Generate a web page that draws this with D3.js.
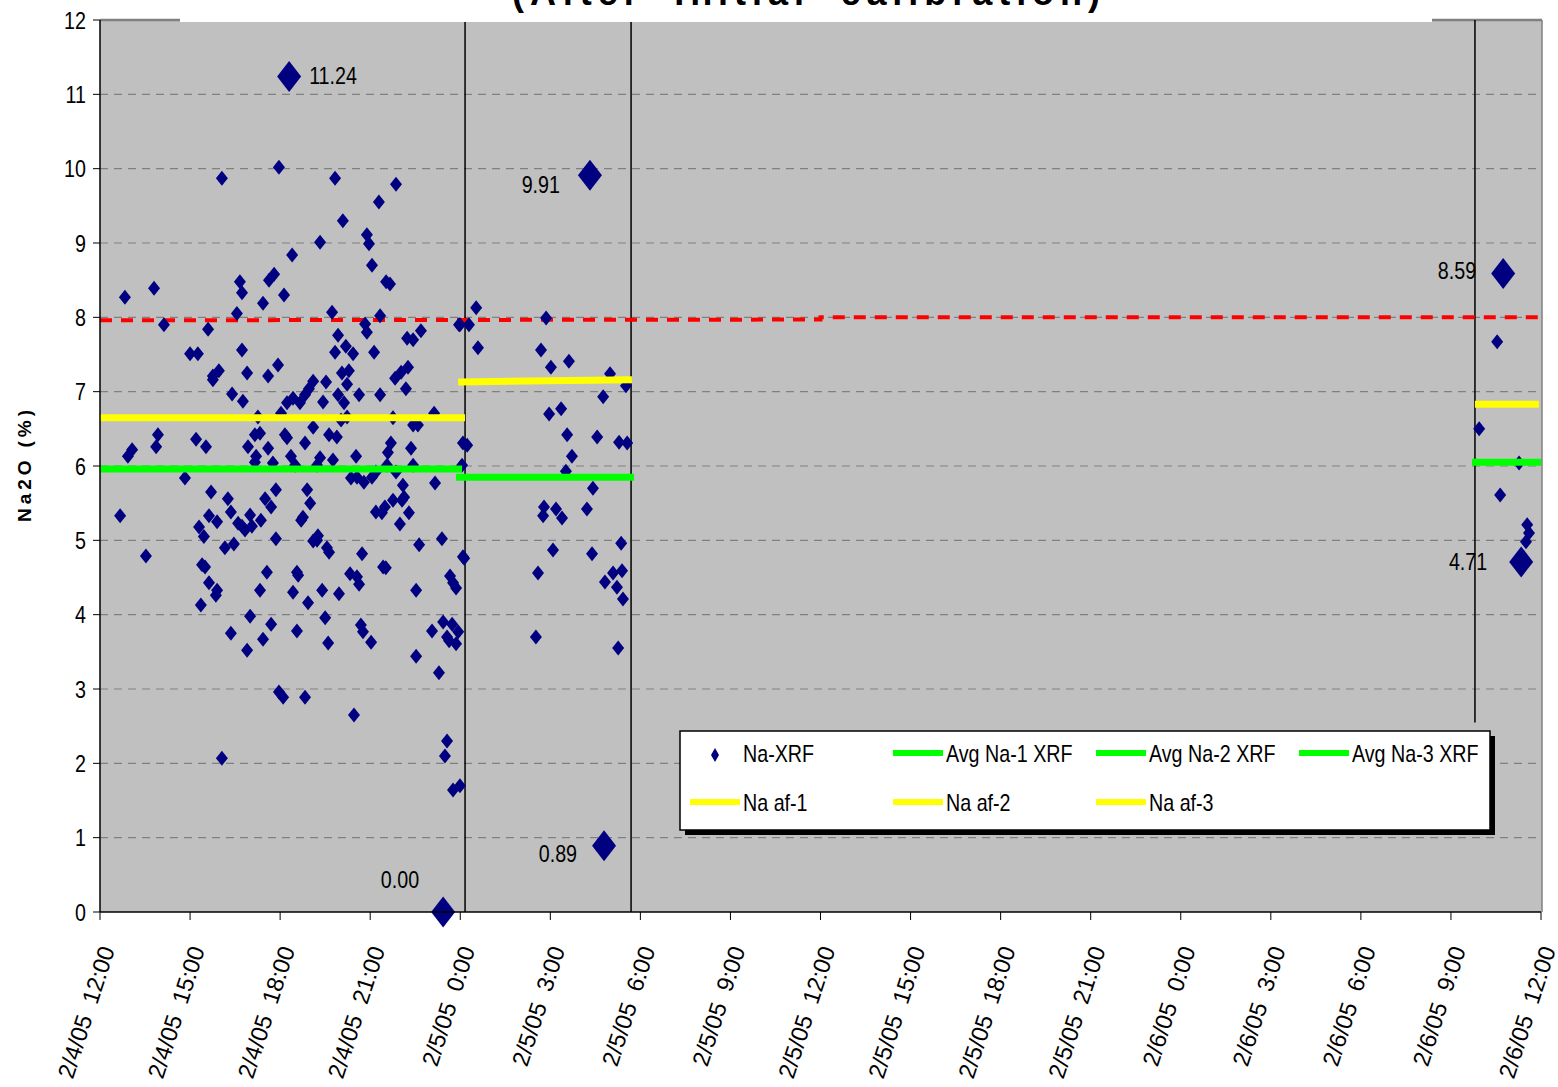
<!DOCTYPE html>
<html><head><meta charset="utf-8">
<script src="https://cdn.jsdelivr.net/npm/d3@7"></script>
<style>
body{margin:0;background:#fff}
svg{display:block}
text{font-family:"Liberation Sans",Arial,sans-serif;fill:#000}
</style>
</head><body>
<svg id="chart" width="1558" height="1087"></svg>
<script>
// ---------------- DATA ----------------
const titleText = "(After 'Initial' calibration)";
const yAxisTitle = "Na2O (%)";
const startTime = new Date(2005, 1, 4, 12, 0);
const endTime = new Date(2005, 1, 6, 12, 0);
const yTickValues = [0,1,2,3,4,5,6,7,8,9,10,11,12];

// Na-XRF readings: [hours after 2/4/05 12:00, Na2O %]
const naXrf = [
 [4.06,9.87],[5.96,10.02],[7.83,9.87],[9.86,9.79],[9.29,9.55],[8.09,9.30],[7.33,9.01],[8.89,9.11],[8.96,8.99],[9.06,8.70],
 [6.40,8.84],[5.80,8.58],[5.63,8.50],[4.66,8.48],[4.73,8.33],[9.53,8.48],[9.66,8.45],[6.13,8.30],[5.43,8.19],[0.83,8.27],
 [1.80,8.39],[4.56,8.05],[7.73,8.07],[9.33,8.02],[2.13,7.90],[3.60,7.84],[8.83,7.91],[8.89,7.80],[11.96,7.90],[7.93,7.76],
 [10.23,7.72],[10.43,7.70],[10.69,7.82],[4.73,7.56],[3.00,7.51],[3.26,7.51],[7.83,7.53],[8.19,7.61],[8.43,7.51],[9.13,7.53],
 [5.93,7.36],[3.76,7.21],[3.96,7.28],[3.76,7.16],[4.90,7.25],[5.60,7.21],[8.06,7.25],[8.29,7.28],[8.23,7.10],[9.83,7.18],
 [10.03,7.26],[10.26,7.33],[10.19,7.04],[4.40,6.97],[4.76,6.87],[6.23,6.85],[6.43,6.91],[6.66,6.85],[6.83,6.96],[6.96,7.04],
 [7.10,7.14],[7.53,7.13],[7.43,6.86],[7.93,6.96],[8.13,6.85],[8.63,6.96],[9.33,6.96],[11.13,6.71],[5.26,6.66],[6.03,6.71],
 [9.76,6.65],[8.03,6.62],[8.23,6.66],[10.43,6.55],[10.59,6.55],[1.93,6.42],[3.20,6.36],[3.53,6.26],[5.16,6.42],[5.33,6.44],
 [6.16,6.42],[6.23,6.38],[7.10,6.52],[7.63,6.42],[7.89,6.39],[9.69,6.31],[12.09,6.31],[6.83,6.31],[1.87,6.26],[1.07,6.22],
 [4.93,6.26],[5.60,6.24],[10.36,6.24],[0.93,6.13],[5.20,6.13],[5.16,6.05],[5.76,6.04],[6.36,6.13],[6.50,6.01],[7.33,6.11],
 [7.23,6.01],[7.76,6.08],[8.53,6.13],[8.36,5.84],[8.56,5.85],[8.79,5.78],[9.06,5.85],[9.19,5.92],[9.56,6.01],[9.59,6.18],
 [9.86,5.92],[10.43,6.01],[12.06,6.01],[11.16,5.77],[10.09,5.74],[9.76,5.54],[10.06,5.54],[10.13,5.58],[9.19,5.38],[9.39,5.37],
 [9.49,5.45],[10.29,5.37],[9.99,5.22],[10.63,4.94],[11.39,5.02],[12.09,4.78],[11.66,4.52],[11.76,4.43],[11.86,4.36],[10.53,4.33],
 [9.43,4.64],[9.52,4.63],[8.73,4.82],[8.33,4.55],[8.56,4.51],[8.63,4.41],[7.96,4.28],[7.40,4.33],[6.93,4.16],[6.43,4.30],
 [6.56,4.57],[6.60,4.53],[5.56,4.57],[5.33,4.33],[5.86,5.02],[7.10,4.99],[7.23,5.00],[7.26,5.06],[7.56,4.90],[7.63,4.84],
 [6.70,5.27],[6.76,5.31],[6.90,5.68],[7.00,5.50],[5.86,5.68],[5.50,5.56],[5.70,5.45],[5.36,5.27],[5.00,5.34],[5.06,5.19],
 [4.83,5.14],[4.60,5.23],[4.73,5.19],[4.26,5.56],[4.36,5.38],[3.70,5.65],[2.83,5.84],[3.63,5.33],[3.90,5.25],[3.30,5.18],
 [3.46,5.05],[4.16,4.90],[4.46,4.95],[0.67,5.33],[1.53,4.79],[3.40,4.67],[3.50,4.64],[3.63,4.43],[3.90,4.33],[3.86,4.26],
 [3.36,4.13],[4.36,3.75],[5.00,3.98],[5.70,3.87],[5.43,3.67],[4.90,3.52],[6.56,3.78],[7.50,3.96],[7.60,3.62],[8.69,3.86],
 [8.76,3.77],[9.03,3.63],[11.06,3.78],[11.43,3.90],[11.73,3.87],[11.93,3.77],[11.56,3.70],[11.63,3.65],[11.86,3.61],[10.53,3.44],
 [11.29,3.22],[5.96,2.96],[6.10,2.89],[6.83,2.89],[8.46,2.65],[4.06,2.07],[11.56,2.30],[11.49,2.10],[11.76,1.64],[11.99,1.70],
 [12.53,8.13],[11.99,7.90],[12.29,7.90],[14.86,7.99],[12.59,7.59],[14.69,7.56],[15.02,7.33],[15.62,7.41],[16.99,7.24],[17.52,7.08],
 [16.76,6.93],[14.96,6.70],[15.36,6.77],[15.56,6.42],[16.56,6.39],[17.29,6.32],[17.56,6.31],[12.23,6.28],[15.72,6.13],[15.52,5.93],
 [16.42,5.70],[14.79,5.45],[14.76,5.33],[15.19,5.42],[15.39,5.30],[16.22,5.42],[12.13,4.76],[17.36,4.96],[15.09,4.87],[16.39,4.82],
 [14.59,4.56],[16.82,4.44],[17.09,4.56],[17.39,4.59],[17.22,4.37],[17.42,4.21],[14.52,3.70],[17.26,3.55],
 [46.54,7.67],[45.94,6.50],[47.27,6.04],[46.64,5.61],[47.54,5.21],[47.60,5.10],[47.50,4.98]
];

// Highlighted (labelled) readings
const highlightHours  = [6.30, 11.43, 16.32, 16.79, 46.74, 47.34];
const highlightValues = [11.24, 0.00, 9.91, 0.89, 8.59, 4.71];

// Average and "af" levels per segment: [hours, value]
const avgNa1 = [[0, 5.96], [12.06, 5.96]];
const avgNa2 = [[11.86, 5.85], [17.79, 5.85]];
const avgNa3 = [[45.70, 6.05], [48.0, 6.05]];
const naAf1 = [[0, 6.65], [12.16, 6.65]];
const naAf2 = [[11.93, 7.13], [17.72, 7.16]];
const naAf3 = [[45.80, 6.83], [47.93, 6.83]];

// Upper limit (red dashed)
const limitLine = [[0, 7.96], [24, 7.97], [24, 8.00], [48, 8.00]];

// Segment separators: [hours, fromValue, toValue]
const segmentMarkers = [[12.16, 0, 12], [17.69, 0, 12], [45.80, 2.55, 12]];

const legendRow1 = ["Na-XRF", "Avg Na-1 XRF", "Avg Na-2 XRF", "Avg Na-3 XRF"];
const legendRow2 = ["Na af-1", "Na af-2", "Na af-3"];

// ---------------- DRAWING ----------------
const svg = d3.select("#chart");
const M = {left: 100, right: 1541, top: 20, bottom: 912};
const toDate = h => new Date(startTime.getTime() + h * 3600000);

const x = d3.scaleTime().domain([startTime, endTime]).range([M.left, M.right]);
const y = d3.scaleLinear().domain([0, 12]).range([M.bottom, M.top]);

function narrow(sel, f) {
  sel.each(function () {
    const l = this.getComputedTextLength();
    this.setAttribute("textLength", l * f);
    this.setAttribute("lengthAdjust", "spacingAndGlyphs");
  });
}

// plot background
svg.append("rect").attr("x", M.left).attr("y", M.top)
  .attr("width", M.right + 1 - M.left).attr("height", M.bottom - M.top)
  .attr("fill", "#c0c0c0");

// gridlines (dashed)
svg.append("g").selectAll("line").data(yTickValues.filter(v => v > 0 && v < 12)).join("line")
  .attr("x1", M.left).attr("x2", M.right + 1)
  .attr("y1", d => y(d)).attr("y2", d => y(d))
  .attr("stroke", "#808080").attr("stroke-width", 1.2).attr("stroke-dasharray", "8,6");

// top / right border
svg.append("line").attr("x1", M.left).attr("x2", M.right + 1).attr("y1", y(12)).attr("y2", y(12))
  .attr("stroke", "#808080").attr("stroke-width", 2.5);
svg.append("line").attr("x1", M.right + 1).attr("x2", M.right + 1).attr("y1", M.top).attr("y2", M.bottom)
  .attr("stroke", "#808080").attr("stroke-width", 1.5);

// segment markers
svg.append("g").selectAll("line").data(segmentMarkers).join("line")
  .attr("x1", d => x(toDate(d[0]))).attr("x2", d => x(toDate(d[0])))
  .attr("y1", d => y(d[1])).attr("y2", d => y(d[2]))
  .attr("stroke", "#000").attr("stroke-width", 1.5);

const line = d3.line().x(d => x(toDate(d[0]))).y(d => y(d[1]));

// red limit line
svg.append("path").datum(limitLine).attr("d", line)
  .attr("fill", "none").attr("stroke", "#ff0000").attr("stroke-width", 4)
  .attr("stroke-dasharray", "12,9");

// diamonds
const diamond = (hw, hh) => `M0,${-hh}L${hw},0L0,${hh}L${-hw},0Z`;
svg.append("g").selectAll("path").data(naXrf).join("path")
  .attr("d", diamond(6, 7.5))
  .attr("transform", d => `translate(${x(toDate(d[0]))},${y(d[1])})`)
  .attr("fill", "#000080");

// average lines (green) & af lines (yellow)
[avgNa1, avgNa2, avgNa3].forEach(s => svg.append("path").datum(s).attr("d", line)
  .attr("fill", "none").attr("stroke", "#00ff00").attr("stroke-width", 7));
[naAf1, naAf2, naAf3].forEach(s => svg.append("path").datum(s).attr("d", line)
  .attr("fill", "none").attr("stroke", "#ffff00").attr("stroke-width", 7));

// highlighted points with labels
const labelPlacement = [
  {dx: 20, dy: 8, anchor: "start"},
  {dx: -24, dy: -24, anchor: "end"},
  {dx: -30, dy: 18, anchor: "end"},
  {dx: -27, dy: 16, anchor: "end"},
  {dx: -27, dy: 6, anchor: "end"},
  {dx: -34, dy: 8, anchor: "end"}
];
const hl = svg.append("g");
highlightHours.forEach((h, i) => {
  const px = x(toDate(h)), py = y(highlightValues[i]);
  hl.append("path").attr("d", diamond(12, 15.5))
    .attr("transform", `translate(${px},${py})`).attr("fill", "#000080");
  const p = labelPlacement[i];
  hl.append("text").attr("class", "nar").attr("x", px + p.dx).attr("y", py + p.dy)
    .attr("text-anchor", p.anchor).attr("font-size", 24)
    .text(d3.format(".2f")(highlightValues[i]));
});

// Y axis
svg.append("line").attr("x1", M.left).attr("x2", M.left).attr("y1", M.top).attr("y2", M.bottom)
  .attr("stroke", "#000").attr("stroke-width", 1.5);
const yt = svg.append("g");
yt.selectAll("line").data(yTickValues).join("line")
  .attr("x1", M.left - 7).attr("x2", M.left).attr("y1", d => y(d)).attr("y2", d => y(d))
  .attr("stroke", "#000").attr("stroke-width", 1);
yt.selectAll("text").data(yTickValues).join("text").attr("class", "nar")
  .attr("x", 86).attr("y", d => y(d)).attr("dy", "0.36em")
  .attr("text-anchor", "end").attr("font-size", 24).text(d => d);

// X axis
svg.append("line").attr("x1", M.left).attr("x2", M.right).attr("y1", M.bottom).attr("y2", M.bottom)
  .attr("stroke", "#000").attr("stroke-width", 1.5);
const xTicks = x.ticks(d3.timeHour.every(3));
const fmt = d => d3.timeFormat("%-m/%-d/%y")(d) + "\u00a0\u00a0" + d3.timeFormat("%-H:%M")(d);
const xt = svg.append("g");
xt.selectAll("line").data(xTicks).join("line")
  .attr("x1", d => x(d)).attr("x2", d => x(d)).attr("y1", M.bottom).attr("y2", M.bottom + 8)
  .attr("stroke", "#000").attr("stroke-width", 1);
xt.selectAll("text").data(xTicks).join("text")
  .attr("transform", d => `translate(${x(d) + 7},${947}) rotate(-72)`)
  .attr("text-anchor", "end").attr("dy", "0.36em").attr("font-size", 23.5)
  .text(fmt);

// Y axis title
svg.append("text").attr("transform", "translate(31,466) rotate(-90)")
  .attr("text-anchor", "middle").attr("font-size", 19).attr("font-weight", "bold")
  .attr("textLength", 112).attr("lengthAdjust", "spacing").text(yAxisTitle);

// Title (clipped at top) with white backdrop
svg.append("rect").attr("x", 180).attr("y", 0).attr("width", 1252).attr("height", 22).attr("fill", "#fff");
svg.append("text").attr("x", 806).attr("y", 5).attr("text-anchor", "middle")
  .attr("font-size", 36).attr("font-weight", "bold")
  .attr("textLength", 588).attr("lengthAdjust", "spacing").text(titleText);

// Legend
const lg = svg.append("g");
lg.append("rect").attr("x", 685).attr("y", 736).attr("width", 810).attr("height", 99).attr("fill", "#000");
lg.append("rect").attr("x", 680).attr("y", 731).attr("width", 810).attr("height", 99)
  .attr("fill", "#fff").attr("stroke", "#000").attr("stroke-width", 1.5);
const colX = [690, 893, 1096, 1299];
const rowY = [753, 802];
lg.append("path").attr("d", diamond(4, 7)).attr("transform", `translate(715,${rowY[0] + 2})`).attr("fill", "#000080");
legendRow1.forEach((t, i) => {
  if (i > 0) lg.append("line").attr("x1", colX[i]).attr("x2", colX[i] + 50)
    .attr("y1", rowY[0]).attr("y2", rowY[0]).attr("stroke", "#00ff00").attr("stroke-width", 6);
  lg.append("text").attr("class", "nar").attr("x", colX[i] + 53).attr("y", rowY[0] + 9)
    .attr("font-size", 24).text(t);
});
legendRow2.forEach((t, i) => {
  lg.append("line").attr("x1", colX[i]).attr("x2", colX[i] + 50)
    .attr("y1", rowY[1]).attr("y2", rowY[1]).attr("stroke", "#ffff00").attr("stroke-width", 6);
  lg.append("text").attr("class", "nar").attr("x", colX[i] + 53).attr("y", rowY[1] + 9)
    .attr("font-size", 24).text(t);
});

narrow(svg.selectAll("text.nar"), 0.82);
</script>
</body></html>
